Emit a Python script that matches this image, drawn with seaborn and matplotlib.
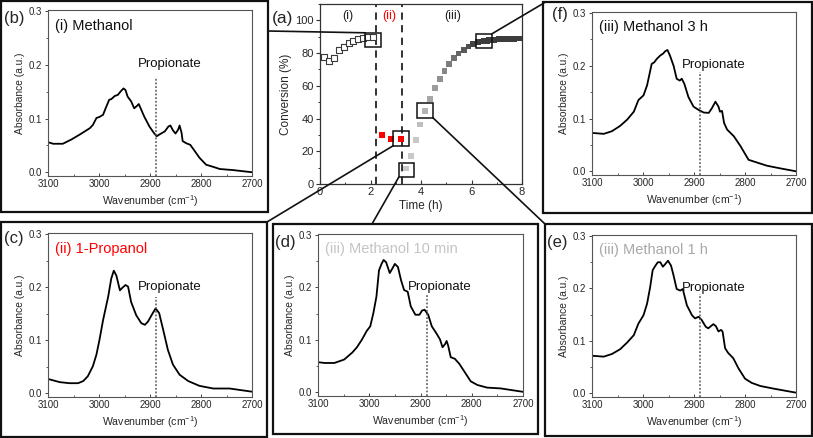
import matplotlib
matplotlib.use("Agg")
import numpy as np
import pandas as pd
import seaborn as sns
import matplotlib.pyplot as plt
from matplotlib.patches import Rectangle, ConnectionPatch
from matplotlib.colors import LinearSegmentedColormap
from matplotlib.ticker import MultipleLocator, FormatStrFormatter

# ---------------- data ----------------
# (a) conversion vs time
t_meoh = [0.17, 0.37, 0.57, 0.75, 0.95, 1.13, 1.32, 1.50, 1.69, 1.91, 2.11]
c_meoh = [77.9, 75.3, 76.9, 81.6, 84.0, 86.1, 87.3, 88.5, 89.4, 89.6, 89.8]
t_prop = [2.45, 2.81, 3.20]
c_prop = [29.9, 27.4, 27.8]
t_meoh2 = [3.40, 3.60, 3.79, 3.95, 4.15, 4.35, 4.55, 4.74, 4.93, 5.11, 5.30, 5.49,
           5.69, 5.88, 6.06, 6.26, 6.40, 6.50, 6.60, 6.70, 6.80, 6.90, 7.00, 7.10,
           7.20, 7.30, 7.40, 7.50, 7.60, 7.70, 7.80, 7.90]
c_meoh2 = [9.4, 17.2, 26.8, 36.4, 44.8, 51.9, 58.7, 64.2, 68.9, 73.2, 76.9, 79.8,
           82.0, 84.0, 85.5, 86.7, 87.1, 87.4, 87.6, 87.8, 88.0, 88.2, 88.3, 88.4,
           88.5, 88.6, 88.7, 88.7, 88.8, 88.8, 88.9, 88.9]
region_labels = ["(i)", "(ii)", "(iii)"]
region_x = [1.12, 2.73, 5.24]
boundaries = [2.2, 3.25]
# zoom boxes (centre time, centre conversion)
box_t = [2.10, 3.21, 3.43, 4.16, 6.50]
box_c = [88.0, 27.8, 8.6, 44.9, 87.4]

# spectra
wn_b = [3100, 3090, 3071, 3054, 3038, 3028, 3018, 3012, 3005, 2999, 2992, 2987, 2980, 2976,
        2969, 2963, 2958, 2952, 2948, 2944, 2937, 2931, 2925, 2922, 2917, 2911, 2901, 2893,
        2887, 2882, 2871, 2864, 2860, 2855, 2850, 2845, 2842, 2838, 2836, 2829, 2821, 2812,
        2803, 2790, 2776, 2763, 2737, 2700]
ab_b = [0.056, 0.053, 0.053, 0.061, 0.070, 0.076, 0.082, 0.088, 0.101, 0.103, 0.107, 0.119,
        0.135, 0.136, 0.142, 0.144, 0.150, 0.156, 0.153, 0.141, 0.132, 0.119, 0.124, 0.127,
        0.116, 0.103, 0.085, 0.074, 0.067, 0.070, 0.076, 0.085, 0.087, 0.078, 0.072, 0.079,
        0.087, 0.073, 0.058, 0.054, 0.051, 0.039, 0.027, 0.014, 0.010, 0.006, 0.004, 0.000]

wn_c = [3100, 3077, 3058, 3041, 3031, 3022, 3012, 3005, 2999, 2992, 2982, 2976, 2971, 2966,
        2959, 2954, 2948, 2943, 2937, 2927, 2917, 2910, 2904, 2897, 2889, 2882, 2874, 2865,
        2855, 2842, 2825, 2803, 2776, 2744, 2700]
ab_c = [0.027, 0.021, 0.019, 0.019, 0.023, 0.032, 0.051, 0.073, 0.101, 0.138, 0.182, 0.216,
        0.231, 0.222, 0.194, 0.199, 0.204, 0.201, 0.172, 0.147, 0.132, 0.129, 0.135, 0.147,
        0.160, 0.151, 0.119, 0.082, 0.054, 0.035, 0.023, 0.014, 0.009, 0.009, 0.003]

wn_d = [3100, 3087, 3068, 3049, 3033, 3024, 3014, 3005, 2998, 2992, 2986, 2981, 2976, 2972,
        2967, 2960, 2955, 2950, 2944, 2938, 2932, 2925, 2919, 2910, 2902, 2897, 2892, 2885,
        2878, 2868, 2862, 2857, 2852, 2849, 2846, 2841, 2833, 2824, 2814, 2802, 2789, 2770,
        2744, 2700]
ab_d = [0.0575, 0.056, 0.056, 0.0625, 0.076, 0.086, 0.101, 0.117, 0.126, 0.151, 0.1825,
        0.2325, 0.245, 0.2525, 0.248, 0.2275, 0.236, 0.245, 0.239, 0.214, 0.195, 0.192,
        0.164, 0.148, 0.148, 0.156, 0.1575, 0.148, 0.126, 0.111, 0.101, 0.086, 0.092, 0.098,
        0.089, 0.067, 0.064, 0.054, 0.039, 0.021, 0.014, 0.009, 0.0075, 0.001]

wn_e = [3100, 3077, 3061, 3045, 3031, 3018, 3009, 2999, 2992, 2986, 2981, 2976, 2971, 2966,
        2961, 2956, 2951, 2945, 2940, 2934, 2927, 2922, 2914, 2904, 2898, 2891, 2885, 2877,
        2872, 2867, 2862, 2857, 2852, 2847, 2844, 2839, 2833, 2823, 2813, 2800, 2787, 2770,
        2744, 2718, 2700]
ab_e = [0.0717, 0.070, 0.075, 0.084, 0.097, 0.111, 0.133, 0.149, 0.171, 0.2025, 0.235, 0.243,
        0.250, 0.250, 0.2415, 0.247, 0.253, 0.2435, 0.2245, 0.199, 0.196, 0.199, 0.168, 0.149,
        0.143, 0.146, 0.140, 0.127, 0.124, 0.128, 0.132, 0.128, 0.118, 0.121, 0.118, 0.086,
        0.077, 0.067, 0.048, 0.028, 0.020, 0.014, 0.009, 0.0044, 0.0013]

wn_f = [3100, 3077, 3061, 3045, 3031, 3018, 3009, 2999, 2992, 2983, 2978, 2973, 2966, 2961,
        2956, 2952, 2947, 2940, 2934, 2928, 2924, 2919, 2911, 2901, 2891, 2881, 2871, 2865,
        2858, 2852, 2849, 2845, 2841, 2835, 2822, 2809, 2793, 2777, 2757, 2731, 2700]
ab_f = [0.0728, 0.071, 0.076, 0.086, 0.098, 0.113, 0.135, 0.144, 0.163, 0.2035, 0.2066,
        0.213, 0.2197, 0.2228, 0.228, 0.230, 0.219, 0.200, 0.1755, 0.172, 0.1755, 0.166,
        0.141, 0.1226, 0.1164, 0.1114, 0.1108, 0.1195, 0.132, 0.1226, 0.113, 0.1145, 0.0915,
        0.079, 0.0666, 0.048, 0.0218, 0.0168, 0.0106, 0.0056, 0.0]

propionate_wn = 2888

# ---------------- style ----------------
sns.set_style("ticks")
plt.rcParams['font.family'] = ['Liberation Sans', 'DejaVu Sans']
plt.rcParams['mathtext.fontset'] = 'custom'
plt.rcParams['mathtext.rm'] = 'Liberation Sans'
plt.rcParams['mathtext.it'] = 'Liberation Sans:italic'

W, H = 813, 438
fig = plt.figure(figsize=(W / 100, H / 100), dpi=100)
fig.patch.set_facecolor('white')


def px_axes(l, t, r, b):
    return fig.add_axes([l / W, 1 - b / H, (r - l) / W, (b - t) / H])


def fig_box(l, t, r, b):
    fig.add_artist(Rectangle((l / W, 1 - b / H), (r - l) / W, (b - t) / H,
                             transform=fig.transFigure, fill=False,
                             ec='#111111', lw=1.6, zorder=0))


def fpt(x, y):
    return (x / W, 1 - y / H)


# ---------------- central panel (a) ----------------
ax_a = px_axes(320, 4, 522, 184)
sns.scatterplot(x=t_meoh, y=c_meoh, ax=ax_a, marker='s', s=17, color='white',
                edgecolor='#3a3a3a', linewidth=0.8, legend=False, zorder=3)
sns.scatterplot(x=t_prop, y=c_prop, ax=ax_a, marker='s', s=17, color='#ff0000',
                linewidth=0, legend=False, zorder=3)
gray_cmap = LinearSegmentedColormap.from_list('g', ['#c8c8c8', '#3c3c3c'])
sns.scatterplot(x=t_meoh2, y=c_meoh2, hue=t_meoh2, palette=gray_cmap,
                hue_norm=(3.8, 6.2), ax=ax_a, marker='s', s=17, linewidth=0,
                legend=False, zorder=3)
for xb in boundaries:
    ax_a.axvline(xb, ls=(0, (4, 3)), color='#222222', lw=1.3, zorder=2)
for lab, xl in zip(region_labels, region_x):
    ax_a.text(xl, 102.5, lab, ha='center', va='center', fontsize=9,
              color='#ff0000' if lab == '(ii)' else '#222222')
for bt, bc in zip(box_t, box_c):
    ax_a.add_patch(Rectangle((bt - 0.31, bc - 4.4), 0.62, 8.8, fill=False,
                             ec='#111111', lw=1.1, zorder=4))
ax_a.set_xlim(0, 8)
ax_a.set_ylim(0, 110)
ax_a.xaxis.set_major_locator(MultipleLocator(2))
ax_a.xaxis.set_minor_locator(MultipleLocator(1))
ax_a.yaxis.set_major_locator(MultipleLocator(20))
ax_a.yaxis.set_minor_locator(MultipleLocator(10))
ax_a.set_yticks([0, 20, 40, 60, 80, 100])
ax_a.tick_params(axis='x', which='both', direction='in', labelsize=8, pad=2)
ax_a.tick_params(axis='y', which='both', direction='out', labelsize=8, pad=1.5)
ax_a.tick_params(which='major', length=3, width=0.8, color='#333333')
ax_a.tick_params(which='minor', length=1.8, width=0.7, color='#333333')
ax_a.set_xlabel('Time (h)', fontsize=8.5, labelpad=2)
ax_a.set_ylabel('Conversion (%)', fontsize=8.5, labelpad=2)
for sp in ax_a.spines.values():
    sp.set_visible(True)
    sp.set_color('#333333')
    sp.set_linewidth(0.9)
fig.text(272 / W, 1 - 19 / H, '(a)', fontsize=12.5, ha='left', va='center')

# ---------------- spectra ----------------
spectra = [
    # letter, wn, ab, title, title colour, axes px (l,t,r,b), box px, letter pos, prop top
    ('(b)', wn_b, ab_b, '(i) Methanol', '#111111', (48, 10, 252, 176), (1, 1, 268, 212), (4, 18), 0.177),
    ('(c)', wn_c, ab_c, '(ii) 1-Propanol', '#ff0000', (48, 233, 252, 397), (1, 222, 267, 437), (4, 239), 0.182),
    ('(d)', wn_d, ab_d, '(iii) Methanol 10 min', '#c4c4c4', (318, 234, 523, 396), (273, 224, 538, 434), (275, 242), 0.186),
    ('(e)', wn_e, ab_e, '(iii) Methanol 1 h', '#a8a8a8', (592, 235, 796, 397), (545, 224, 812, 436), (547, 243), 0.190),
    ('(f)', wn_f, ab_f, '(iii) Methanol 3 h', '#111111', (592, 12, 796, 175), (543, 2, 812, 213), (552, 15), 0.188),
]

for letter, wn, ab, title, tcol, axpx, boxpx, lpos, ptop in spectra:
    fig_box(*boxpx)
    ax = px_axes(*axpx)
    df = pd.DataFrame({'wn': wn, 'ab': ab})
    sns.lineplot(data=df, x='wn', y='ab', ax=ax, color='black', lw=1.3,
                 sort=False, estimator=None)
    ax.plot([propionate_wn, propionate_wn], [-0.007, ptop], ls=(0, (1.2, 1.2)),
            color='#555555', lw=1.1)
    ax.text(2862, 0.201, 'Propionate', ha='center', va='center', fontsize=9.5,
            color='#111111')
    ax.text(0.035, 0.905, title, transform=ax.transAxes, ha='left', va='center',
            fontsize=10.5, color=tcol)
    ax.set_xlim(3100, 2700)
    ax.set_ylim(-0.007, 0.302)
    ax.set_xticks([3100, 3000, 2900, 2800, 2700])
    ax.xaxis.set_minor_locator(MultipleLocator(50))
    ax.set_yticks([0.0, 0.1, 0.2, 0.3])
    ax.yaxis.set_minor_locator(MultipleLocator(0.05))
    ax.yaxis.set_major_formatter(FormatStrFormatter('%.1f'))
    ax.tick_params(axis='x', which='both', direction='in', labelsize=7, pad=2.5)
    ax.tick_params(axis='y', which='both', direction='out', labelsize=7, pad=1.5)
    ax.tick_params(which='major', length=2.5, width=0.7, color='#444444')
    ax.tick_params(which='minor', length=1.5, width=0.6, color='#444444')
    ax.set_xlabel('Wavenumber (cm$^{-1}$)', fontsize=7.6, labelpad=2.5)
    ax.set_ylabel('Absorbance (a.u.)', fontsize=7.4, labelpad=3)
    for sp in ax.spines.values():
        sp.set_visible(True)
        sp.set_color('#555555')
        sp.set_linewidth(0.8)
    fig.text(lpos[0] / W, 1 - lpos[1] / H, letter, fontsize=12, ha='left', va='center')

# ---------------- connectors ----------------
hw, hh = 0.31, 4.4
connectors = [
    ((box_t[0] - hw, box_c[0] + hh), fpt(268, 31)),
    ((box_t[4] + hw, box_c[4] + hh), fpt(544, 3)),
    ((box_t[1] - hw, box_c[1] - hh), fpt(267, 222)),
    ((box_t[2] - hw, box_c[2] - hh), fpt(372, 224)),
    ((box_t[3] + hw, box_c[3] - hh), fpt(545, 224)),
]
for xyA, xyB in connectors:
    cp = ConnectionPatch(xyA=xyA, coordsA=ax_a.transData, xyB=xyB,
                         coordsB=fig.transFigure, color='#111111', lw=1.2)
    fig.add_artist(cp)

fig.savefig('out.png', dpi=100, facecolor='white')
